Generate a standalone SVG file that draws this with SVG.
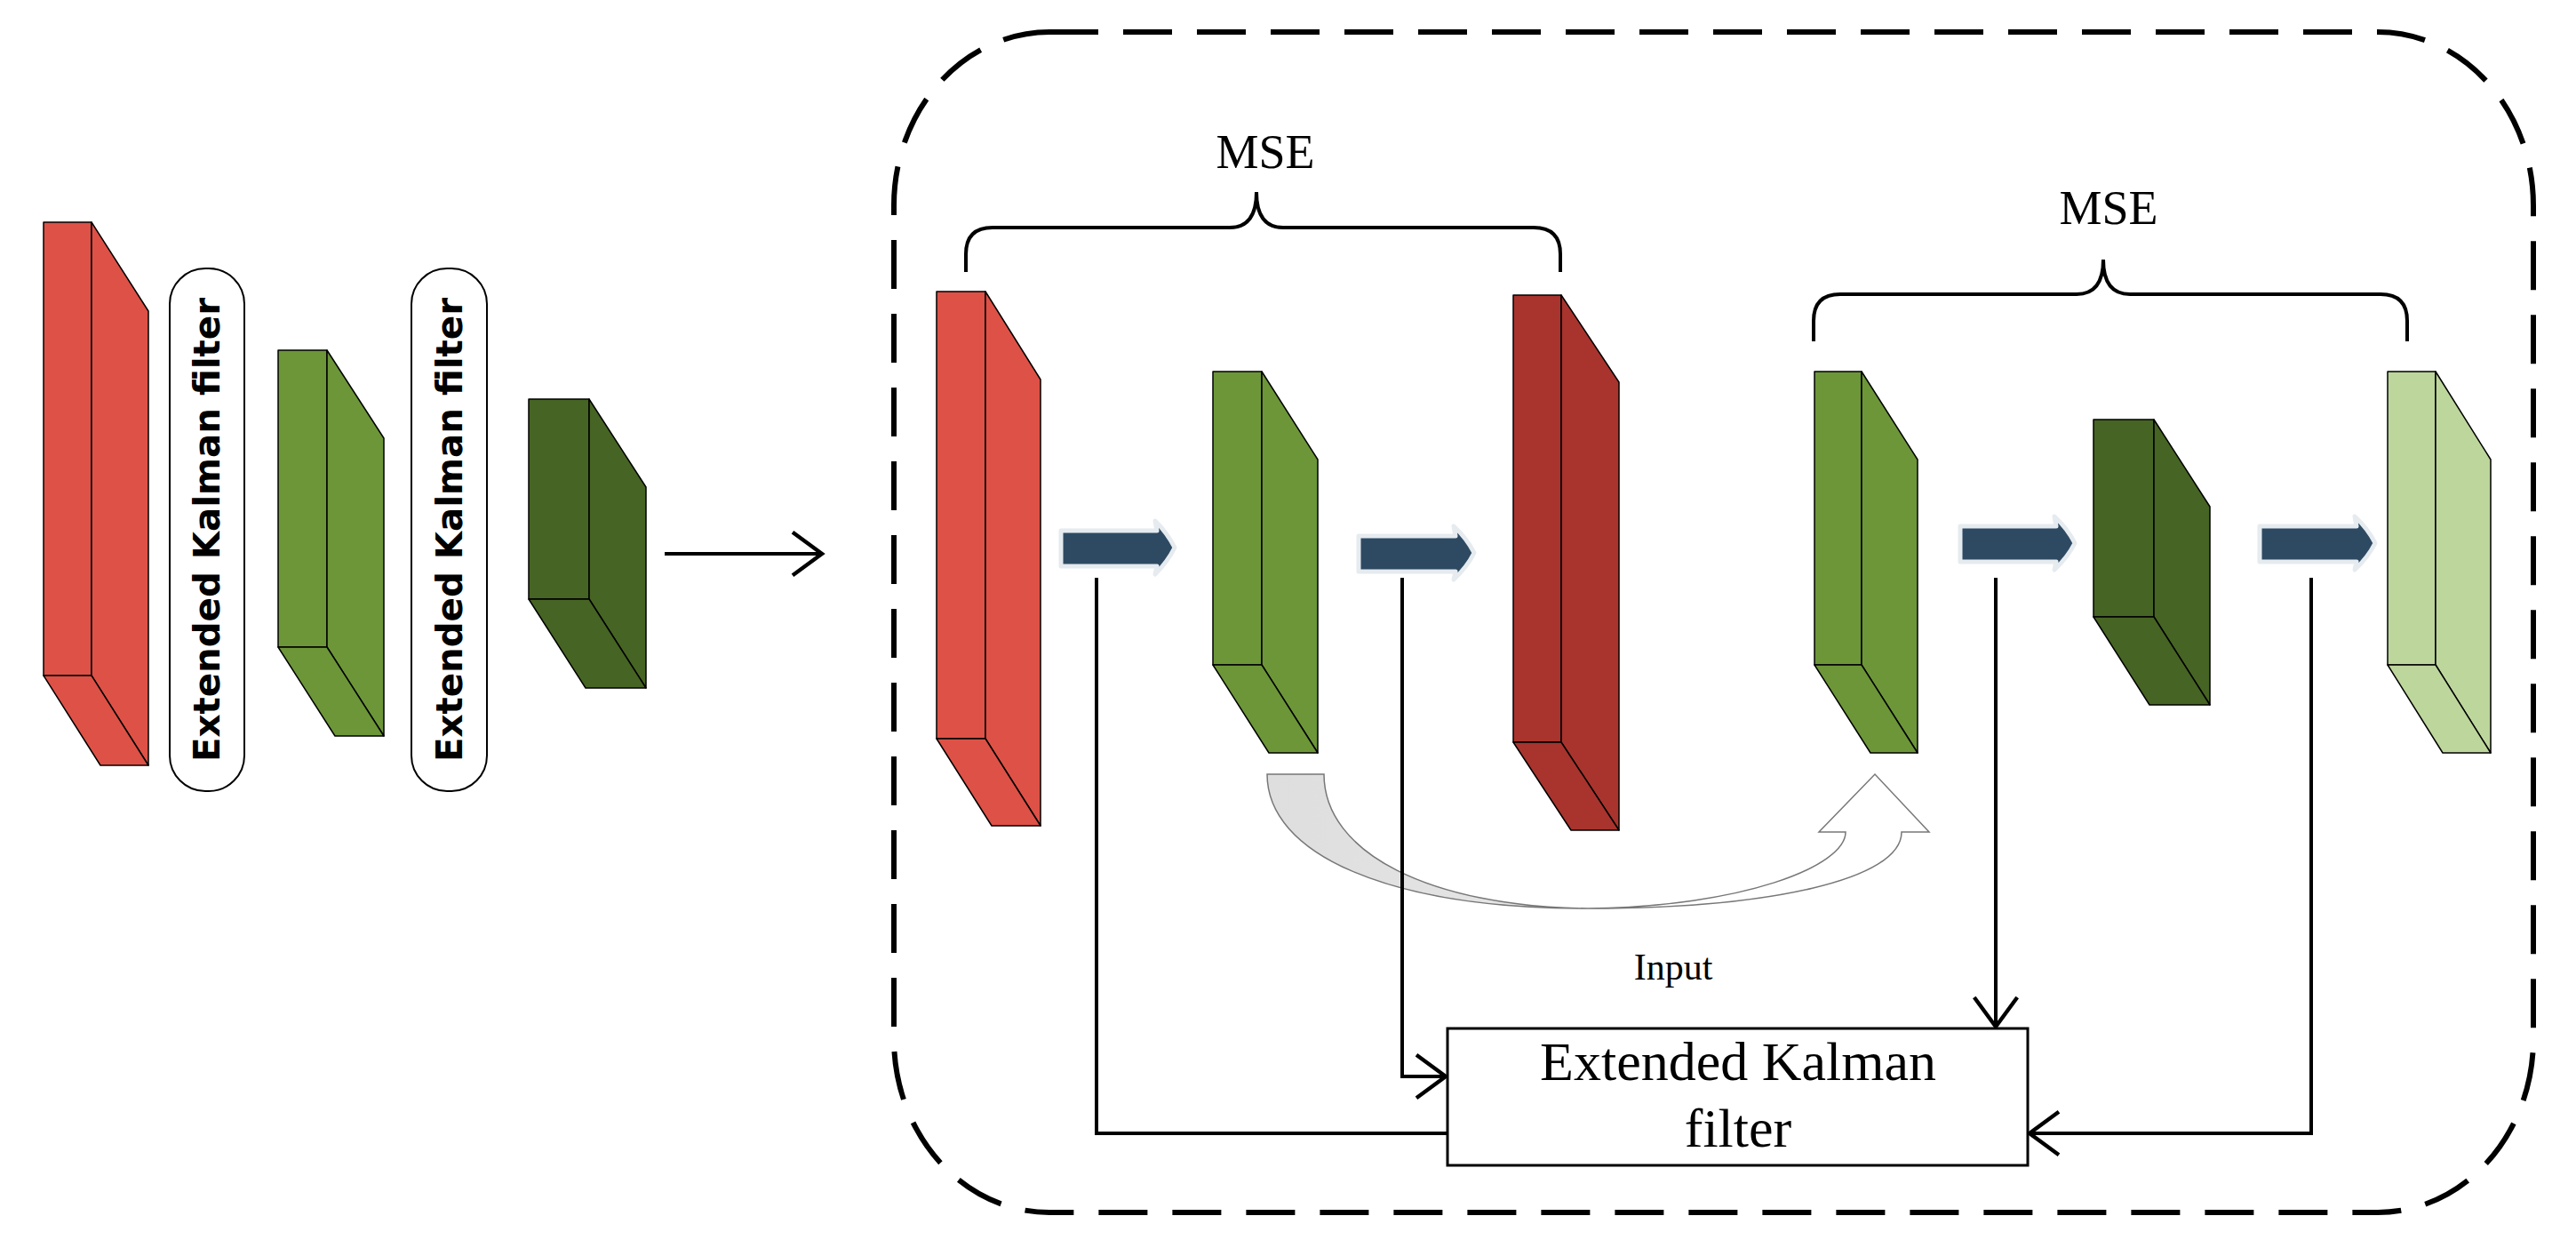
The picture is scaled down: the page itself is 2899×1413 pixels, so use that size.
<svg xmlns="http://www.w3.org/2000/svg" width="2899" height="1413" viewBox="0 0 2899 1413">
<style>
.blk{stroke:#000;stroke-width:1.5;stroke-linejoin:round}
.red{fill:#DE5146}.dred{fill:#A8342D}.grn{fill:#6C9638}.dgrn{fill:#466423}.lgrn{fill:#BDD69C}
.pill{fill:#fff;stroke:#000;stroke-width:2}
.vt{font-family:"DejaVu Sans",sans-serif;font-weight:bold;font-size:40px;text-anchor:middle}
.serif{font-family:"Liberation Serif",serif;text-anchor:middle}
.ln{fill:none;stroke:#000;stroke-width:4}
.ba{fill:#2E4A63;stroke:#E6EBEF;stroke-width:5;stroke-linejoin:round}
</style>
<defs>
<marker id="oa" viewBox="0 0 20 20" refX="19" refY="10" markerWidth="22" markerHeight="22" markerUnits="userSpaceOnUse" orient="auto" overflow="visible">
<path d="M-30,-12 L0,10 L-30,32" transform="translate(19,0)" fill="none" stroke="#000" stroke-width="4"/>
</marker>
<linearGradient id="cg" x1="0" y1="0" x2="1" y2="0">
<stop offset="0" stop-color="#dedede"/><stop offset="0.45" stop-color="#e6e6e6"/><stop offset="0.6" stop-color="#fff"/><stop offset="1" stop-color="#fff"/>
</linearGradient>
</defs>

<g id="left-red" class="blk red">
<rect x="49" y="250" width="54" height="510"/>
<polygon points="103,250 167,350 167,861 103,760"/>
<polygon points="49,760 103,760 167,861 113,861"/>
</g>
<g id="left-pill1"><rect class="pill" x="191" y="302" width="84" height="588" rx="40"/>
<text class="vt" transform="translate(247,596) rotate(-90)" textLength="522" lengthAdjust="spacingAndGlyphs">Extended Kalman filter</text></g>
<g id="left-green" class="blk grn">
<rect x="313" y="394" width="55" height="334"/>
<polygon points="368,394 432,493 432,828 368,728"/>
<polygon points="313,728 368,728 432,828 377,828"/>
</g>
<g id="left-pill2"><rect class="pill" x="463" y="302" width="85" height="588" rx="40"/>
<text class="vt" transform="translate(520,596) rotate(-90)" textLength="522" lengthAdjust="spacingAndGlyphs">Extended Kalman filter</text></g>
<g id="left-dgreen" class="blk dgrn">
<rect x="595" y="449" width="68" height="225"/>
<polygon points="663,449 727,548 727,774 663,674"/>
<polygon points="595,674 663,674 727,774 659,774"/>
</g>

<g id="frame"><rect x="1006" y="36" width="1845" height="1328" rx="175" ry="195" fill="none" stroke="#000" stroke-width="6" stroke-dasharray="55 28"/></g>

<g id="mse1">
<text class="serif" x="1424" y="189" font-size="54">MSE</text>
<path class="ln" stroke-width="3" d="M1087,306 V286 Q1087,256 1117,256 H1384 Q1414,256 1414,216 Q1414,256 1444,256 H1726 Q1756,256 1756,286 V306"/>
</g>
<g id="mse2">
<text class="serif" x="2373" y="252" font-size="54">MSE</text>
<path class="ln" stroke-width="3" d="M2041,384 V361 Q2041,331 2071,331 H2337 Q2367,331 2367,292 Q2367,331 2397,331 H2679 Q2709,331 2709,361 V384"/>
</g>

<g id="red2" class="blk red">
<rect x="1054" y="328" width="55" height="503"/>
<polygon points="1109,328 1171,427 1171,929 1109,831"/>
<polygon points="1054,831 1109,831 1171,929 1116,929"/>
</g>
<g id="green2" class="blk grn">
<rect x="1365" y="418" width="55" height="330"/>
<polygon points="1420,418 1483,517 1483,847 1420,748"/>
<polygon points="1365,748 1420,748 1483,847 1428,847"/>
</g>
<g id="red3" class="blk dred">
<rect x="1703" y="332" width="54" height="503"/>
<polygon points="1757,332 1822,430 1822,934 1757,835"/>
<polygon points="1703,835 1757,835 1822,934 1768,934"/>
</g>
<g id="green3" class="blk grn">
<rect x="2042" y="418" width="53" height="330"/>
<polygon points="2095,418 2158,517 2158,847 2095,748"/>
<polygon points="2042,748 2095,748 2158,847 2105,847"/>
</g>
<g id="dgreen2" class="blk dgrn">
<rect x="2356" y="472" width="68" height="222"/>
<polygon points="2424,472 2487,570 2487,793 2424,694"/>
<polygon points="2356,694 2424,694 2487,793 2419,793"/>
</g>
<g id="lgreen" class="blk lgrn">
<rect x="2687" y="418" width="54" height="330"/>
<polygon points="2741,418 2803,517 2803,847 2741,748"/>
<polygon points="2687,748 2741,748 2803,847 2749,847"/>
</g>

<g id="block-arrows">
<path class="ba" d="M1194,597 H1302 L1300,586 Q1314,600 1322,616 Q1314,632 1300,646 L1302,637 H1194 Z"/>
<path class="ba" d="M1529,603 H1638 L1636,592 Q1651,606 1659,622 Q1651,638 1636,652 L1638,643 H1529 Z"/>
<path class="ba" d="M2206,592 H2314 L2312,581 Q2327,595 2335,611 Q2327,627 2312,641 L2314,632 H2206 Z"/>
<path class="ba" d="M2543,592 H2652 L2650,581 Q2665,595 2673,611 Q2665,627 2650,641 L2652,632 H2543 Z"/>
</g>

<g id="curved-arrow">
<path d="M1426,871 L1490,871 C1490,960 1610,1020 1787,1022 C1960,1020 2077,975 2077,936 L2047,936 L2110,871 L2171,936 L2140,936 C2140,990 1990,1022 1787,1022 C1560,1022 1426,960 1426,871 Z" fill="url(#cg)" stroke="#777" stroke-width="1.5"/>
</g>

<g id="connectors">
<path class="ln" stroke-width="5" d="M748,623 H925" marker-end="url(#oa)"/>
<path class="ln" d="M1234,650 V1275 H1629"/>
<path class="ln" d="M1578,650 V1211 H1627" marker-end="url(#oa)"/>
<path class="ln" d="M2246,650 V1155" marker-end="url(#oa)"/>
<path class="ln" d="M2601,650 V1275 H2284" marker-end="url(#oa)"/>
</g>

<g id="ekf">
<rect x="1629" y="1157" width="653" height="154" fill="#fff" stroke="#000" stroke-width="3"/>
<text class="serif" x="1956" y="1215" font-size="62">Extended Kalman</text>
<text class="serif" x="1956" y="1290" font-size="62">filter</text>
</g>
<text class="serif" x="1883" y="1102" font-size="42">Input</text>
</svg>
